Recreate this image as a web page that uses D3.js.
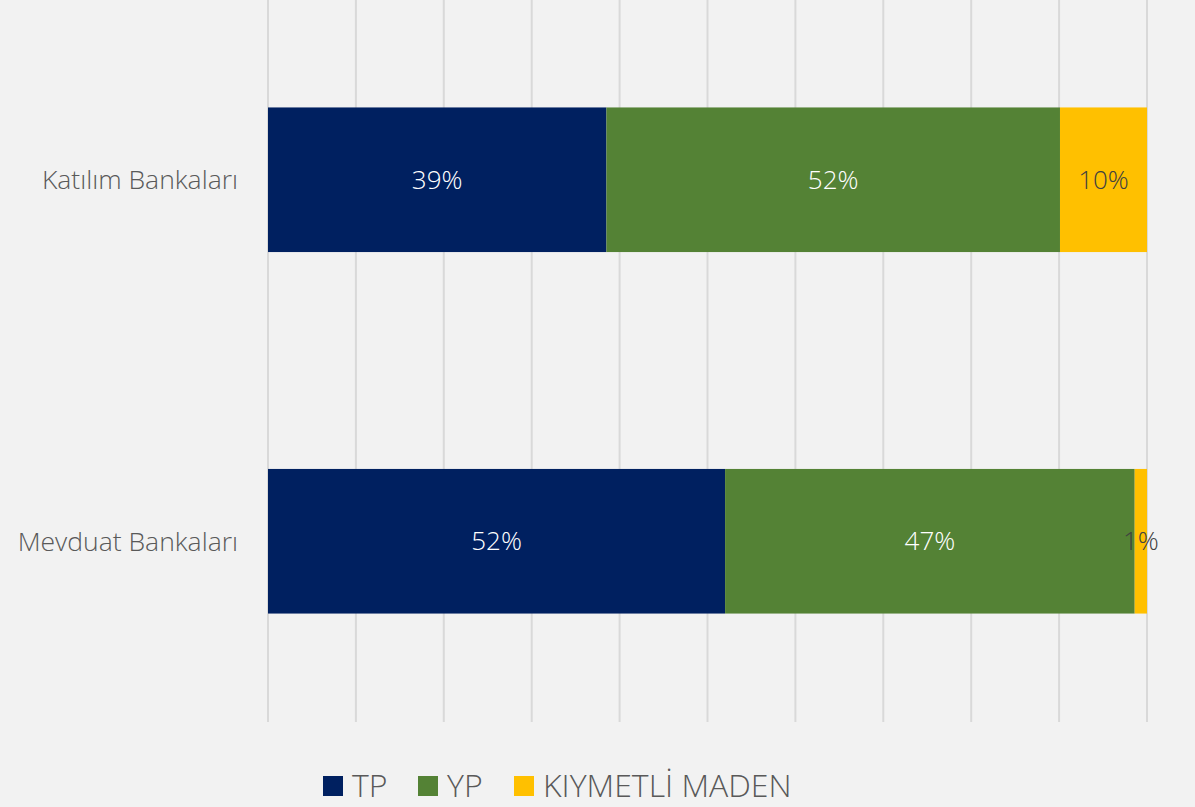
<!DOCTYPE html>
<meta charset="utf-8">
<style>
  body { margin: 0; background: #f2f2f2; }
  svg { display: block; font-family: "Open Sans", sans-serif; font-weight: 300; }
  .grid line { stroke: #d9d9d9; stroke-width: 2; }
  .cat { fill: #595959; font-size: 26.5px; }
  .lbl { font-size: 26px; }
  .legend text { fill: #595959; font-size: 32px; }
</style>
<body>
<script src="https://cdn.jsdelivr.net/npm/d3@7"></script>
<script>
// data (percent shares)
var categories = ["Katılım Bankaları", "Mevduat Bankaları"];
var seriesNames = ["TP", "YP", "KIYMETLİ MADEN"];
var tp = [38.5, 52.0];
var yp = [51.6, 46.6];
var maden = [9.9, 1.4];
var ticks = [0, 10, 20, 30, 40, 50, 60, 70, 80, 90, 100];

var colors = ["#002060", "#548235", "#ffc000"];
var labelColors = ["#ffffff", "#ffffff", "#404040"];

var width = 1195,
    height = 807;

var svg = d3.select("body").append("svg")
    .attr("width", width)
    .attr("height", height);

var x = d3.scaleLinear().domain([0, 100]).range([268, 1147]);
var y = d3.scaleBand().domain(categories).range([-1, 722]).paddingInner(0.6).paddingOuter(0.3);

// gridlines
svg.append("g").attr("class", "grid")
  .selectAll("line")
  .data(ticks)
  .enter().append("line")
    .attr("x1", function(d) { return x(d); })
    .attr("x2", function(d) { return x(d); })
    .attr("y1", 0)
    .attr("y2", 722);

var rows = categories.map(function(c, i) {
  return { cat: c, TP: tp[i], YP: yp[i], "KIYMETLİ MADEN": maden[i] };
});
var stack = d3.stack().keys(seriesNames);
var layers = stack(rows);

var g = svg.selectAll(".layer")
    .data(layers)
  .enter().append("g")
    .attr("class", "layer");

g.each(function(layer, li) {
  var sel = d3.select(this);
  sel.selectAll("rect")
      .data(layer)
    .enter().append("rect")
      .attr("x", function(d) { return x(d[0]); })
      .attr("y", function(d) { return y(d.data.cat); })
      .attr("width", function(d) { return x(d[1]) - x(d[0]); })
      .attr("height", y.bandwidth())
      .attr("fill", colors[li]);
});

g.each(function(layer, li) {
  d3.select(this).selectAll("text")
      .data(layer)
    .enter().append("text")
      .attr("class", "lbl")
      .attr("x", function(d) { return (x(d[0]) + x(d[1])) / 2; })
      .attr("y", function(d) { return y(d.data.cat) + y.bandwidth() / 2; })
      .attr("dy", "0.35em")
      .attr("text-anchor", "middle")
      .attr("fill", labelColors[li])
      .text(function(d) { return Math.round(d[1] - d[0]) + "%"; });
});

// category labels
svg.selectAll(".cat")
    .data(categories)
  .enter().append("text")
    .attr("class", "cat")
    .attr("x", 238)
    .attr("y", function(d) { return y(d) + y.bandwidth() / 2; })
    .attr("dy", "0.35em")
    .attr("text-anchor", "end")
    .text(function(d) { return d; });

// legend
var legendX = [323, 418, 514];
var legend = svg.append("g").attr("class", "legend")
  .selectAll("g")
    .data(seriesNames)
  .enter().append("g")
    .attr("transform", function(d, i) { return "translate(" + legendX[i] + ",776)"; });

legend.append("rect")
    .attr("width", 20)
    .attr("height", 20)
    .attr("fill", function(d, i) { return colors[i]; });

legend.append("text")
    .attr("x", 29)
    .attr("y", 21)
    .text(function(d) { return d; });
</script>
